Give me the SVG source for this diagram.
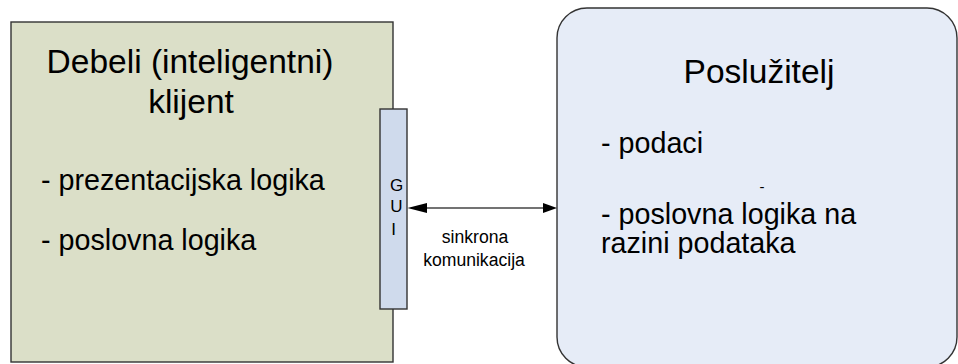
<svg xmlns="http://www.w3.org/2000/svg" width="958" height="364" viewBox="0 0 958 364">
  <style>
    text { font-family: "Liberation Sans", Arial, sans-serif; fill: #000; }
    .title { font-size: 33.5px; text-anchor: middle; }
    .item { font-size: 28.7px; }
    .small { font-size: 17.6px; text-anchor: middle; }
    .gui { font-size: 17px; text-anchor: middle; }
    .box { stroke: #333; stroke-width: 1.4; }
    .link { stroke: #444; stroke-width: 1.6; fill: none; }
    .head { fill: #000; }
  </style>

  <rect width="958" height="364" fill="#ffffff"/>

  <!-- thick client -->
  <g id="client">
    <rect class="box" x="11" y="22" width="382" height="340" fill="#dbdfc8"/>
    <text class="title" x="190" y="73">Debeli (inteligentni)</text>
    <text class="title" x="191" y="113">klijent</text>
    <text class="item" x="41" y="190">- prezentacijska logika</text>
    <text class="item" x="41" y="250">- poslovna logika</text>
  </g>

  <!-- GUI strip on the client edge -->
  <g id="gui">
    <rect class="box" x="380" y="109" width="27" height="200" fill="#cfdaec"/>
    <text class="gui" x="396.5" y="191">G</text>
    <text class="gui" x="396.5" y="212">U</text>
    <text class="gui" x="393.5" y="235">I</text>
  </g>

  <!-- server -->
  <g id="server">
    <rect class="box" x="557" y="8" width="400" height="359" rx="30" ry="30" fill="#e6ecf7"/>
    <text class="title" x="759" y="83">Poslužitelj</text>
    <text class="item" x="601" y="153">- podaci</text>
    <text class="small" x="762" y="192" style="font-size:15px">-</text>
    <text class="item" x="601" y="224">- poslovna logika na</text>
    <text class="item" x="601" y="253">razini podataka</text>
  </g>

  <!-- synchronous link between GUI and server -->
  <g id="connectors">
    <line class="link" x1="420" y1="208" x2="548" y2="208"/>
    <polygon class="head" points="407.5,208 427,203 427,213"/>
    <polygon class="head" points="557,208 543,203 543,213"/>
    <text class="small" x="475" y="243">sinkrona</text>
    <text class="small" x="474" y="266">komunikacija</text>
  </g>
</svg>
